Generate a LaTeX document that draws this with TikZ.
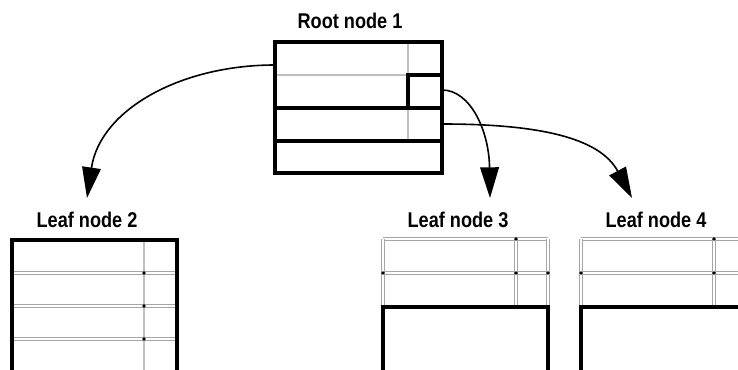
\documentclass[tikz,border=0pt]{standalone}
\usepackage{fontspec}
\setmainfont{Liberation Sans}[FakeStretch=0.85]
\usetikzlibrary{arrows.meta}

\begin{document}
\begin{tikzpicture}[x=0.75pt,y=-0.75pt,>={Triangle[length=23pt,width=14pt]}]
  \tikzstyle{heavy}=[line width=2.6pt]
  \tikzstyle{faint}=[draw=black!25,line width=1.3pt]
  \tikzstyle{twin}=[draw=black!35,line width=0.9pt,double=white,double distance=1.1pt]
  \tikzstyle{tag}=[inner sep=0pt,font=\fontsize{16}{16}\bfseries\selectfont]
  \tikzstyle{joint}=[circle,fill=black,inner sep=0pt,minimum size=2.8pt]
  \tikzstyle{link}=[->,line width=1.2pt]
  \useasboundingbox (0,0) rectangle (738,370);
  \clip (0,0) rectangle (738,370);
  % root node 1
  \node[tag] (root) at (350,21) {Root node 1};
  \draw[faint] (275,75) -- (408,75);
  \draw[faint] (408,42) -- (408,75) (408,108) -- (408,141);
  \draw[heavy] (408,75) rectangle (442,108);
  \draw[heavy] (275,108) -- (442,108) (275,141) -- (442,141);
  \draw[heavy] (275,42) rectangle (442,173);
  \coordinate (r1) at (275,65);
  \coordinate (r2) at (442,90);
  \coordinate (r3) at (442,124);
  % leaf node 2
  \node[tag] (leaf2) at (87,220) {Leaf node 2};
  \draw[faint] (144,240) -- (144,380);
  \foreach \y in {273,306,339} {
    \draw[twin] (12,\y) -- (177,\y);
    \node[joint] at (144,\y) {};
  }
  \draw[heavy] (12,380) -- (12,240) -- (177,240) -- (177,380);
  % leaf nodes 3 and 4
  \foreach \x/\n in {383/3,581/4} {
    \node[tag] (leaf\n) at (\x+75,220) {Leaf node \n};
    \draw[twin] (\x,239) -- (\x+165,239) (\x,273) -- (\x+165,273);
    \draw[twin] (\x,239) -- (\x,307) (\x+133,239) -- (\x+133,307)
      (\x+165,239) -- (\x+165,307);
    \foreach \dx/\dy in {133/239,133/273,0/273,165/273}
      \node[joint] at (\x+\dx,\dy) {};
    \draw[heavy] (\x,380) -- (\x,307) -- (\x+165,307) -- (\x+165,380);
  }
  \coordinate (t2) at (87,198);
  \coordinate (t3) at (490,198);
  \coordinate (t4) at (632,198);
  \draw[link] (r1) .. controls (180,65) and (100,110) .. (t2);
  \draw[link] (r2) .. controls (470,90) and (489,130) .. (t3);
  \draw[link] (r3) .. controls (540,124) and (600,138) .. (t4);
\end{tikzpicture}
\end{document}
